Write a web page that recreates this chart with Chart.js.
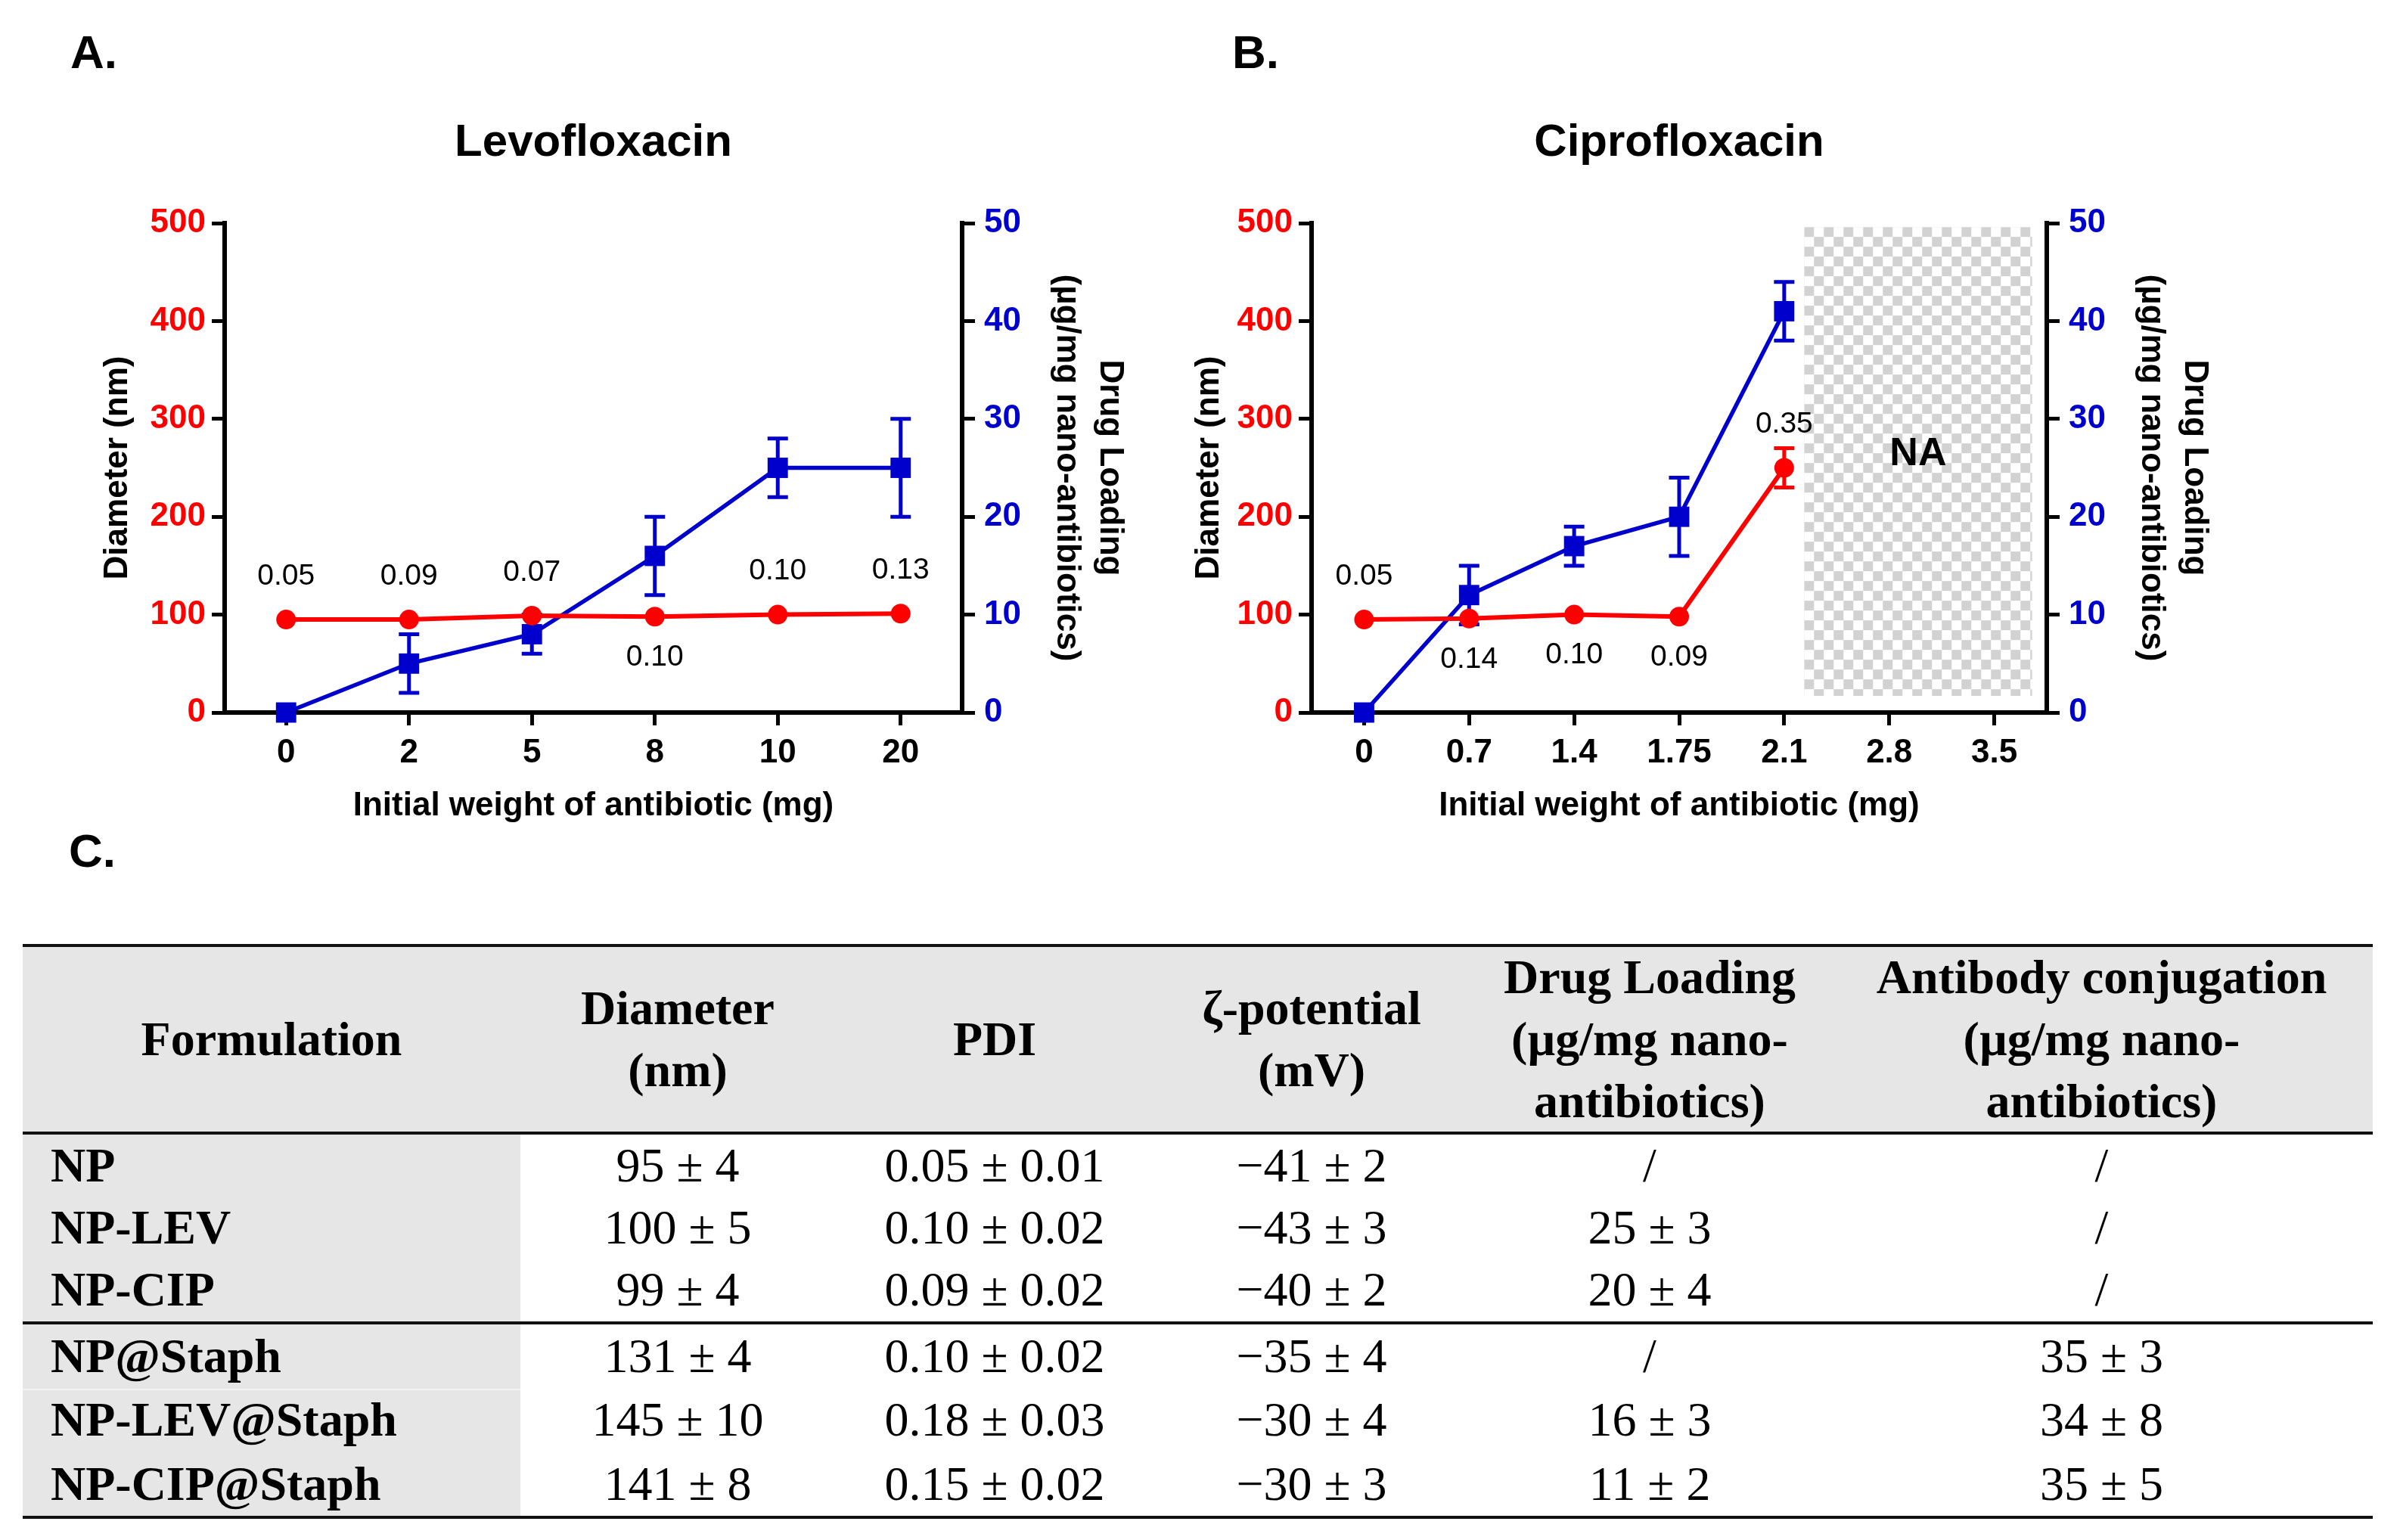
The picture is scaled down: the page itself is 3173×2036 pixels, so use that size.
<!DOCTYPE html>
<html>
<head>
<meta charset="utf-8">
<script src="https://cdn.jsdelivr.net/npm/chart.js@4.4.0/dist/chart.umd.min.js"></script>
<style>
html,body{margin:0;padding:0;background:#fff;}
body{width:3173px;height:2036px;position:relative;overflow:hidden;}
.panel{position:absolute;font-family:"Liberation Sans",Arial,sans-serif;font-weight:bold;font-size:62px;line-height:1;color:#000;}
canvas{position:absolute;top:0;}
#tbl{position:absolute;left:0;top:0;width:3173px;height:2036px;font-family:"Liberation Serif","Times New Roman",serif;font-size:64px;color:#000;}
#tbl div{position:absolute;}
.cell{display:flex;align-items:center;justify-content:center;text-align:center;line-height:82px;white-space:nowrap;}
.hd{font-weight:bold;}
.lab{font-weight:bold;justify-content:flex-start;}
</style>
</head>
<body>
<div class="panel" style="left:93px;top:38px;">A.</div>
<div class="panel" style="left:1629px;top:38px;">B.</div>
<div class="panel" style="left:91px;top:1094px;">C.</div>
<canvas id="chartA" width="1560" height="1100" style="left:0px;"></canvas>
<canvas id="chartB" width="1613" height="1100" style="left:1560px;"></canvas>
<div id="tbl"></div>
<script>
// ---------- Chart data ----------
const catsA = ['0', '2', '5', '8', '10', '20'];
const diamA = [95, 95, 99, 98, 100, 101];
const diamErrA = [null, null, null, null, null, null];
const loadA = [0, 5, 8, 16, 25, 25];
const loadErrA = [0, 3, 2, 4, 3, 5];
const pdiA = ['0.05', '0.09', '0.07', '0.10', '0.10', '0.13'];
const pdiSideA = ['above', 'above', 'above', 'below', 'above', 'above'];

const catsB = ['0', '0.7', '1.4', '1.75', '2.1', '2.8', '3.5'];
const diamB = [95, 96, 100, 98, 250, null, null];
const diamErrB = [null, null, null, null, 20, null, null];
const loadB = [0, 12, 17, 20, 41, null, null];
const loadErrB = [0, 3, 2, 4, 3, null, null];
const pdiB = ['0.05', '0.14', '0.10', '0.09', '0.35', null, null];
const pdiSideB = ['above', 'below', 'below', 'below', 'above', null, null];
const naRegionB = {xFrom: 4.19, xTo: 6.36, yFrom: 17, yTo: 496, label: 'NA'};

// ---------- Table data ----------
const tableHeaders = [['Formulation'], ['Diameter', '(nm)'], ['PDI'], ['ζ-potential', '(mV)'],
  ['Drug Loading', '(µg/mg nano-', 'antibiotics)'], ['Antibody conjugation', '(µg/mg nano-', 'antibiotics)']];
const formulations = ['NP', 'NP-LEV', 'NP-CIP', 'NP@Staph', 'NP-LEV@Staph', 'NP-CIP@Staph'];
const diameters = ['95 ± 4', '100 ± 5', '99 ± 4', '131 ± 4', '145 ± 10', '141 ± 8'];
const pdis = ['0.05 ± 0.01', '0.10 ± 0.02', '0.09 ± 0.02', '0.10 ± 0.02', '0.18 ± 0.03', '0.15 ± 0.02'];
const zetas = ['−41 ± 2', '−43 ± 3', '−40 ± 2', '−35 ± 4', '−30 ± 4', '−30 ± 3'];
const drugLoadings = ['/', '25 ± 3', '20 ± 4', '/', '16 ± 3', '11 ± 2'];
const antibodies = ['/', '/', '/', '35 ± 3', '34 ± 8', '35 ± 5'];

// ---------- Charts ----------
const FONT = '"Liberation Sans", Arial, sans-serif';
const RED = '#FF0000';
const BLUE = '#0000CC';
Chart.defaults.font.family = FONT;

const errorBarPlugin = {
  id: 'errorBars',
  afterDatasetDraw(chart, args) {
    const ds = chart.data.datasets[args.index];
    if (!ds.errors) return;
    const yScale = chart.scales[ds.yAxisID];
    const ctx = chart.ctx;
    ctx.save();
    ctx.strokeStyle = ds.borderColor;
    ctx.lineWidth = 5;
    args.meta.data.forEach((pt, i) => {
      const v = ds.data[i], e = ds.errors[i];
      if (v == null || !e) return;
      const yT = yScale.getPixelForValue(v + e), yB = yScale.getPixelForValue(v - e);
      ctx.beginPath();
      ctx.moveTo(pt.x, yT); ctx.lineTo(pt.x, yB);
      ctx.moveTo(pt.x - 13.5, yT); ctx.lineTo(pt.x + 13.5, yT);
      ctx.moveTo(pt.x - 13.5, yB); ctx.lineTo(pt.x + 13.5, yB);
      ctx.stroke();
    });
    ctx.restore();
  }
};

const pdiLabelPlugin = {
  id: 'pdiLabels',
  afterDatasetsDraw(chart) {
    const ds = chart.data.datasets[0];
    if (!ds.pdi) return;
    const meta = chart.getDatasetMeta(0);
    const ctx = chart.ctx;
    ctx.save();
    ctx.fillStyle = '#000';
    ctx.font = '39px ' + FONT;
    ctx.textAlign = 'center';
    ctx.textBaseline = 'middle';
    meta.data.forEach((pt, i) => {
      const t = ds.pdi[i];
      if (!t || ds.data[i] == null) return;
      const y = ds.pdiSide[i] === 'below' ? pt.y + 54 : pt.y - 57;
      ctx.fillText(t, pt.x, y);
    });
    ctx.restore();
  }
};

const naPlugin = {
  id: 'naRegion',
  beforeDatasetsDraw(chart, args, opts) {
    const r = opts && opts.region;
    if (!r) return;
    const xs = chart.scales.x, ys = chart.scales.y;
    const x0 = xs.getPixelForValue(r.xFrom), x1 = xs.getPixelForValue(r.xTo);
    const y0 = ys.getPixelForValue(r.yTo), y1 = ys.getPixelForValue(r.yFrom);
    const cell = 13;
    const pc = document.createElement('canvas');
    pc.width = cell * 2; pc.height = cell * 2;
    const p = pc.getContext('2d');
    p.fillStyle = '#ffffff'; p.fillRect(0, 0, cell * 2, cell * 2);
    p.fillStyle = '#d2d2d2';
    p.fillRect(0, 0, cell, cell); p.fillRect(cell, cell, cell, cell);
    const ctx = chart.ctx;
    ctx.save();
    ctx.translate(x0, y0);
    ctx.fillStyle = ctx.createPattern(pc, 'repeat');
    ctx.fillRect(0, 0, x1 - x0, y1 - y0);
    ctx.restore();
    ctx.save();
    ctx.fillStyle = '#000';
    ctx.font = 'bold 52px ' + FONT;
    ctx.textAlign = 'center';
    ctx.textBaseline = 'middle';
    ctx.fillText(r.label, (x0 + x1) / 2, ys.getPixelForValue(264));
    ctx.restore();
  }
};

function makeChart(id, cfg) {
  return new Chart(document.getElementById(id), {
    type: 'line',
    data: {
      labels: cfg.cats,
      datasets: [
        {label: 'Diameter (nm)', data: cfg.diam, yAxisID: 'y', borderColor: RED, backgroundColor: RED,
         borderWidth: 6, pointStyle: 'circle', pointRadius: 13, pointHoverRadius: 13, pointBorderWidth: 0,
         clip: false, errors: cfg.diamErr, pdi: cfg.pdi, pdiSide: cfg.pdiSide},
        {label: 'Drug Loading', data: cfg.load, yAxisID: 'y1', borderColor: BLUE, backgroundColor: BLUE,
         borderWidth: 5.5, pointStyle: 'rect', pointRadius: 19, pointHoverRadius: 19, pointBorderWidth: 0,
         clip: false, errors: cfg.loadErr}
      ]
    },
    options: {
      responsive: false, devicePixelRatio: 1, animation: false, events: [],
      layout: {padding: 0},
      plugins: {
        legend: {display: false}, tooltip: {enabled: false},
        title: {display: true, text: cfg.title, fullSize: false, color: '#000',
          font: {family: FONT, size: 60, weight: 'bold', lineHeight: 1.2},
          padding: {top: 153, bottom: 70}},
        naRegion: {region: cfg.na || null}
      },
      scales: {
        x: {
          type: 'category', offset: true,
          grid: {display: true, drawOnChartArea: false, offset: false, color: '#000', lineWidth: 5, tickLength: 17},
          border: {display: true, color: '#000', width: 6},
          ticks: {color: '#000', font: {size: 44, weight: 'bold'}, padding: 10, maxRotation: 0, autoSkip: false},
          title: {display: true, text: 'Initial weight of antibiotic (mg)', color: '#000',
            font: {size: 44, weight: 'bold', lineHeight: 1.2}, padding: {top: 0, bottom: 7.6}},
          afterFit: s => { s.height = 158; }
        },
        y: {
          position: 'left', min: 0, max: 500,
          grid: {display: true, drawOnChartArea: false, color: '#000', lineWidth: 5, tickLength: 17},
          border: {display: true, color: '#000', width: 6},
          ticks: {stepSize: 100, color: RED, font: {size: 44, weight: 'bold'}, padding: 8},
          title: {display: true, text: 'Diameter (nm)', color: '#000',
            font: {size: 44, weight: 'bold', lineHeight: 1.2}, padding: {top: cfg.leftTitlePad, bottom: 0}},
          afterFit: s => { s.width = cfg.leftW; }
        },
        y1: {
          position: 'right', min: 0, max: 50,
          grid: {display: true, drawOnChartArea: false, color: '#000', lineWidth: 5, tickLength: 17},
          border: {display: true, color: '#000', width: 6},
          ticks: {stepSize: 10, color: BLUE, font: {size: 44, weight: 'bold'}, padding: 12},
          title: {display: true, text: ['Drug Loading', '(µg/mg nano-antibiotics)'], color: '#000',
            font: {size: 44, weight: 'bold', lineHeight: 1.3}, padding: {top: cfg.rightTitlePad, bottom: 0}},
          afterFit: s => { s.width = cfg.rightW; }
        }
      }
    },
    plugins: [naPlugin, errorBarPlugin, pdiLabelPlugin]
  });
}

makeChart('chartA', {title: 'Levofloxacin', cats: catsA, diam: diamA, diamErr: diamErrA, load: loadA, loadErr: loadErrA,
  pdi: pdiA, pdiSide: pdiSideA, leftW: 297, rightW: 288, leftTitlePad: 129.6, rightTitlePad: 64.4});
makeChart('chartB', {title: 'Ciprofloxacin', cats: catsB, diam: diamB, diamErr: diamErrB, load: loadB, loadErr: loadErrB,
  pdi: pdiB, pdiSide: pdiSideB, na: naRegionB, leftW: 174, rightW: 467, leftTitlePad: 12.6, rightTitlePad: 243.4});

// ---------- Table ----------
(function buildTable() {
  const tbl = document.getElementById('tbl');
  const L = 30, R = 3137;
  const colEdges = [30, 688, 1104, 1526, 1942, 2420, 3137];
  const add = (style, cls, html) => {
    const d = document.createElement('div');
    if (cls) d.className = cls;
    Object.assign(d.style, style);
    if (html != null) d.innerHTML = html;
    tbl.appendChild(d);
    return d;
  };
  const px = v => v + 'px';
  // backgrounds
  add({left: px(L), top: px(1252), width: px(R - L), height: px(244), background: '#e6e6e6'});
  add({left: px(L), top: px(1500), width: px(colEdges[1] - L), height: px(504), background: '#e6e6e6'});
  add({left: px(L), top: px(1836), width: px(colEdges[1] - L), height: px(2), background: '#f3f3f3'});
  // rules
  [1248, 1496, 1747, 2004].forEach(y => add({left: px(L), top: px(y), width: px(R - L), height: px(4), background: '#111'}));
  // header
  tableHeaders.forEach((lines, c) => {
    add({left: px(colEdges[c]), top: px(1252), width: px(colEdges[c + 1] - colEdges[c]), height: px(244)},
      'cell hd', lines.join('<br>'));
  });
  // body
  const rowCenters = [1541, 1623, 1705, 1793, 1877, 1962];
  const cols = [formulations, diameters, pdis, zetas, drugLoadings, antibodies];
  rowCenters.forEach((cy, r) => {
    cols.forEach((col, c) => {
      const style = {left: px(colEdges[c]), top: px(cy - 41), width: px(colEdges[c + 1] - colEdges[c]), height: px(82)};
      if (c === 0) { style.left = px(67); style.width = px(colEdges[1] - 67); }
      add(style, c === 0 ? 'cell lab' : 'cell', col[r]);
    });
  });
})();
</script>
</body>
</html>
